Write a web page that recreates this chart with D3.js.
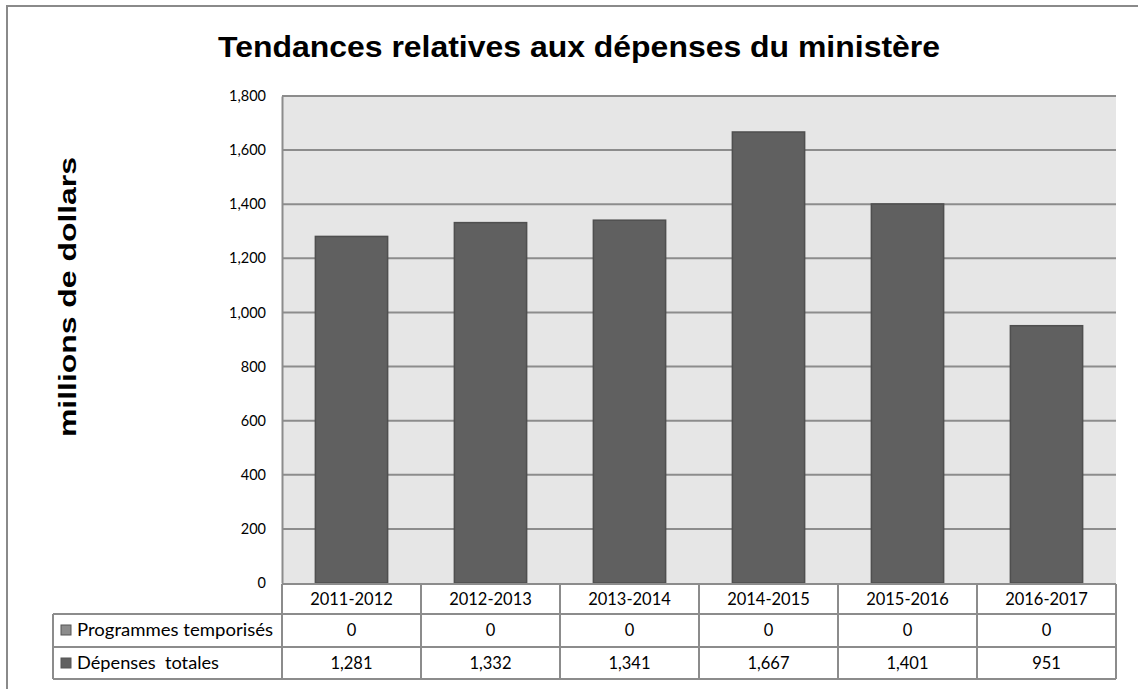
<!DOCTYPE html>
<html><head><meta charset="utf-8">
<script src="https://cdn.jsdelivr.net/npm/d3@7"></script>
<style>body{margin:0;background:#fff}svg{display:block}</style>
</head><body>
<svg id="c" width="1138" height="689"></svg>
<script>
const categories = ["2011-2012","2012-2013","2013-2014","2014-2015","2015-2016","2016-2017"];
const programmesTemporises = [0,0,0,0,0,0];
const depensesTotales = [1281,1332,1341,1667,1401,951];
const yTicks = [0,200,400,600,800,1000,1200,1400,1600,1800];
const seriesNames = ["Programmes temporisés","Dépenses  totales"];
const title = "Tendances relatives aux dépenses du ministère";
const yTitle = "millions de dollars";

const svg = d3.select("#c");
const fmt = d3.format(",");
const L = 282, R = 1116, T = 96, B = 583;
const x = d3.scaleBand().domain(categories).range([L,R]).paddingInner(0.48).paddingOuter(0.24);
const y = d3.scaleLinear().domain([0,1800]).range([B,T]);
const grid = "#8c8c8c";
const tf = "Lato, 'Open Sans', sans-serif";

// outer frame
svg.append("path").attr("d","M7,689 V6 H1138").attr("fill","none").attr("stroke","#8a8a8a").attr("stroke-width",2);

// title
svg.append("text").attr("x",579).attr("y",57).attr("text-anchor","middle")
  .attr("font-family","'Liberation Sans', Arial, sans-serif").attr("font-weight","bold").attr("font-size",29.5)
  .attr("textLength",722).attr("lengthAdjust","spacingAndGlyphs")
  .text(title);

// y title
svg.append("text").attr("transform","translate(76,297) rotate(-90)").attr("text-anchor","middle")
  .attr("font-family","'Liberation Sans', Arial, sans-serif").attr("font-weight","bold").attr("font-size",23)
  .attr("textLength",280).attr("lengthAdjust","spacingAndGlyphs")
  .text(yTitle);

// plot bg
svg.append("rect").attr("x",L).attr("y",T).attr("width",R-L).attr("height",B-T).attr("fill","#e6e6e6");

// grid
svg.append("g").selectAll("line").data(yTicks.filter(d=>d>0)).join("line")
  .attr("x1",L).attr("x2",R).attr("y1",d=>y(d)).attr("y2",d=>y(d))
  .attr("stroke",grid).attr("stroke-width",2);

// y axis via d3
const ya = svg.append("g").attr("transform",`translate(${L},0)`)
  .call(d3.axisLeft(y).tickValues(yTicks).tickFormat(fmt).tickSize(0).tickPadding(16));
ya.select(".domain").attr("stroke",grid).attr("stroke-width",2);
ya.selectAll("text").attr("font-family",tf).attr("font-size",14.5).attr("fill","#000");

// bars
svg.append("g").selectAll("rect").data(categories).join("rect")
  .attr("x",d=>x(d)).attr("width",x.bandwidth())
  .attr("y",(d,i)=>y(depensesTotales[i])).attr("height",(d,i)=>B-y(depensesTotales[i]))
  .attr("fill","#606060").attr("stroke","#4f4f4f").attr("stroke-width",1.5);

// data table
const rowY = [584,614,647,679];
const tl = svg.append("g").attr("stroke",grid).attr("stroke-width",2).attr("fill","none");
tl.append("line").attr("x1",L).attr("x2",R).attr("y1",rowY[0]).attr("y2",rowY[0]);
tl.append("line").attr("x1",53).attr("x2",R).attr("y1",rowY[1]).attr("y2",rowY[1]);
tl.append("line").attr("x1",53).attr("x2",R).attr("y1",rowY[2]).attr("y2",rowY[2]);
tl.append("line").attr("x1",53).attr("x2",R).attr("y1",rowY[3]).attr("y2",rowY[3]);
tl.append("line").attr("x1",53).attr("x2",53).attr("y1",rowY[1]).attr("y2",rowY[3]);
const step = x.step();
const colEdges = d3.range(categories.length+1).map(i=>L+i*step);
colEdges.forEach(cx=>tl.append("line").attr("x1",cx).attr("x2",cx).attr("y1",rowY[0]).attr("y2",rowY[3]));

const tt = svg.append("g").attr("font-family",tf).attr("font-size",16.5).attr("fill","#000").attr("text-anchor","middle");
categories.forEach((c,i)=>{
  const cx = x(c)+x.bandwidth()/2;
  tt.append("text").attr("x",cx).attr("y",rowY[0]+21).text(c);
  tt.append("text").attr("x",cx).attr("y",rowY[1]+22).text(fmt(programmesTemporises[i]));
  tt.append("text").attr("x",cx).attr("y",rowY[2]+22).text(fmt(depensesTotales[i]));
});
const legCols = ["#8c8c8c","#606060"];
const legLen = [196,142];
seriesNames.forEach((s,i)=>{
  const ry = rowY[i+1];
  svg.append("rect").attr("x",61).attr("y",ry+11).attr("width",10).attr("height",10)
    .attr("fill",legCols[i]).attr("stroke","#555").attr("stroke-width",1);
  svg.append("text").attr("x",77).attr("y",ry+22).attr("font-family",tf).attr("font-size",17)
    .attr("textLength",legLen[i]).attr("lengthAdjust","spacingAndGlyphs")
    .style("white-space","pre").text(s);
});
</script>
</body></html>
